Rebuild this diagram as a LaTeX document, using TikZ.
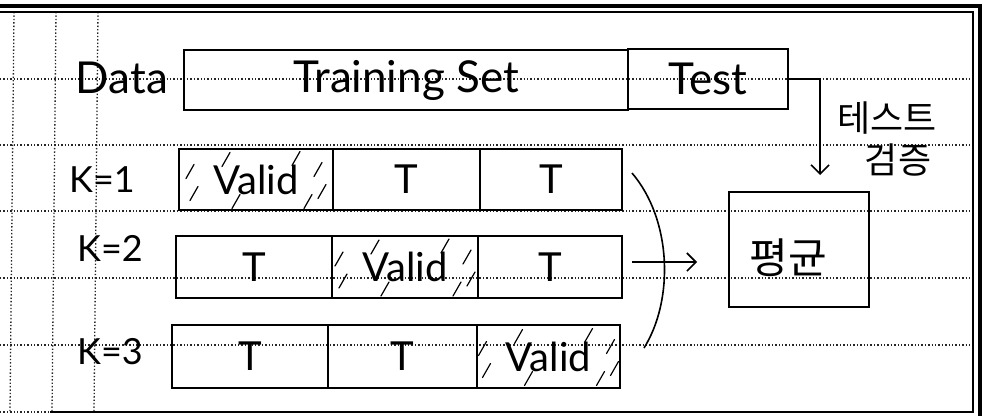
\documentclass[tikz,border=0pt]{standalone}
\usepackage{fontspec}
\setmainfont{Lato}
\newfontfamily\kr{Noto Sans CJK KR}
\usetikzlibrary{arrows.meta}
\tikzset{
  paperdot/.style={line width=1.3pt, dash pattern=on 1.4pt off 2pt, black!85},
  cell/.style={draw, line width=1.6pt, inner sep=0pt, font=\fontsize{40}{42}\selectfont},
  vcell/.style={cell, font=\fontsize{40}{42}\selectfont},
  lbl/.style={inner sep=0pt, font=\fontsize{36}{38}\selectfont},
  big/.style={font=\fontsize{44}{46}\selectfont},
  hatchst/.style={line width=1.2pt, line cap=round},
  arr/.style={line width=1.6pt, -{Straight Barb[length=9pt,width=18pt,line width=1.6pt]}},
  pen/.style={line width=1.6pt}
}
\newcommand\myhatch[1]{%
  \foreach \dx/\dy in {-66/-8,-62/14,-30/-20,40/-21,62/-10,66/12,52/22,-20/22}{%
    \draw[hatchst] ([shift={(\dx,\dy)}]#1.center) +(-4,7) -- +(4,-7);}}
\begin{document}
\begin{tikzpicture}[x=1pt,y=-1pt]
\useasboundingbox (0,0) rectangle (1000,416);
\fill[white] (0,0) rectangle (1000,416);
% notebook paper
\foreach \yy in {79,145,211,278,345} \draw[paperdot] (0,\yy) -- (973,\yy);
\foreach \xx in {14,56,98} \draw[paperdot] (\xx,12) -- (\xx-4,412);
\draw[paperdot] (0,412) -- (50,412);
\draw[line width=3.5pt] (0,6) -- (980,6) -- (980,416);
\draw[line width=1.3pt] (0,12) -- (973,12) -- (973,412) -- (50,412);
% data row
\node[lbl, big] (data) at (122,78) {Data};
\node[cell, big, minimum width=444, minimum height=60] (train) at (406,80) {Training Set};
\node[cell, big, minimum width=160, minimum height=60] (test) at (708,79) {Test};
% folds
\node[lbl] (k1) at (102,180) {K=1};
\node[lbl] (k2) at (110,248) {K=2};
\node[lbl] (k3) at (110,352) {K=3};
\node[vcell, minimum width=154, minimum height=61] (v1) at (256,179.5) {Valid};
\node[cell, minimum width=147, minimum height=61] (t12) at (406.5,179.5) {T};
\node[cell, minimum width=142, minimum height=61] (t13) at (551,179.5) {T};
\node[cell, minimum width=156, minimum height=62] (t21) at (254,267) {T};
\node[vcell, minimum width=146, minimum height=62] (v2) at (405,267) {Valid};
\node[cell, minimum width=144, minimum height=62] (t23) at (550,267) {T};
\node[cell, minimum width=156, minimum height=63] (t31) at (250,356.5) {T};
\node[cell, minimum width=149, minimum height=63] (t32) at (402.5,356.5) {T};
\node[vcell, minimum width=143, minimum height=63] (v3) at (548.5,356.5) {Valid};
\myhatch{v1}
\myhatch{v2}
\myhatch{v3}
% average box
\node[cell, minimum width=140, minimum height=115] (avg) at (799,249.5) {};
\node[lbl, font=\kr\fontsize{42}{44}\selectfont] (avgl) at (788,258) {평균};
% test arrow
\coordinate (tt) at (820,175);
\draw[arr] (test.east) -| (tt);
\node[lbl, font=\kr\fontsize{36}{38}\selectfont] (tl1) at (887,118) {테스트};
\node[lbl, font=\kr\fontsize{36}{38}\selectfont] (tl2) at (898,160) {검증};
% bracket and arrow
\coordinate (b0) at (632,173);
\coordinate (b3) at (644,348);
\draw[pen] (b0) .. controls (672,220) and (674,300) .. (b3);
\coordinate (a0) at (632,262);
\coordinate (a1) at (697,262);
\draw[arr] (a0) -- (a1);
\end{tikzpicture}
\end{document}
